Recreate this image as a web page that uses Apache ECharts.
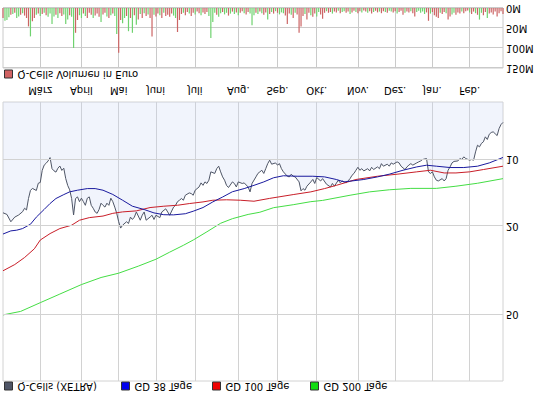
<!DOCTYPE html>
<html>
<head>
<meta charset="utf-8">
<script src="https://cdn.jsdelivr.net/npm/echarts@6/dist/echarts.min.js"></script>
<style>
html,body{margin:0;padding:0;background:#fff;}
#c{width:545px;height:395px;transform:scaleY(-1);transform-origin:50% 50%;}
</style>
</head>
<body>
<div id="c"></div>
<script>
// ---- data (trading day index, value) ----
const dayCount = 256;
const months = ['März','April','Mai','Juni','Juli','Aug.','Sep.','Okt.','Nov.','Dez.','Jan.','Feb.'];
const monthDays = [19,40,59,78,98,120,140,160,181,200,219,238];
const priceTicks = [10,20,50];
const volTicks = ['0M','50M','100M','150M'];

const price = [[0,17.4],[2,17.7],[4,19.1],[6,18.2],[8,17.8],[10,17.2],[11,16.6],[12,16.9],[13,15.0],[14,13.8],[15,13.5],[17,13.8],[18,12.8],[19,12.7],[20,11.2],[21,10.6],[22,10.4],[23,10.15],[24,9.8],[25,11.0],[26,11.25],[27,11.4],[28,10.95],[29,10.7],[30,11.2],[31,10.95],[32,12.2],[33,13.1],[34,13.7],[35,15.0],[36,17.8],[37,15.0],[38,14.75],[39,15.5],[40,14.95],[41,15.5],[42,16.1],[43,14.95],[44,14.75],[45,16.1],[46,16.6],[47,17.25],[48,17.5],[49,16.8],[50,15.75],[51,16.1],[52,16.4],[53,15.75],[54,16.1],[55,14.95],[56,15.5],[57,16.4],[58,17.5],[59,19.1],[60,20.4],[61,19.8],[63,19.1],[64,19.45],[65,18.2],[66,18.65],[67,18.2],[68,17.25],[70,18.8],[71,17.85],[72,17.25],[73,18.8],[75,18.2],[76,17.85],[77,18.65],[78,17.85],[80,18.3],[81,17.25],[83,16.7],[84,17.25],[85,17.85],[87,16.4],[88,16.1],[89,15.5],[90,15.27],[91,15.0],[92,15.27],[93,14.5],[95,14.15],[96,14.25],[97,14.5],[98,13.76],[100,13.3],[101,12.75],[102,13.08],[103,12.62],[104,12.83],[105,12.4],[106,11.37],[108,11.56],[109,11.0],[110,10.72],[111,11.37],[112,11.98],[113,12.4],[114,13.08],[115,13.38],[117,12.62],[118,12.83],[119,13.3],[120,12.62],[122,12.83],[123,12.75],[125,13.3],[126,14.0],[127,12.83],[129,11.98],[130,11.56],[131,11.37],[132,11.18],[133,11.56],[134,11.0],[135,10.44],[136,10.07],[137,10.5],[139,10.36],[140,10.6],[141,10.44],[142,11.0],[143,11.37],[145,11.9],[146,11.98],[147,11.65],[148,11.9],[149,11.98],[151,12.62],[152,13.85],[153,13.53],[154,13.76],[155,13.2],[157,12.62],[158,12.3],[159,12.83],[160,12.06],[162,12.5],[163,12.2],[165,12.93],[167,13.3],[168,12.83],[169,13.2],[171,12.4],[172,12.75],[173,12.5],[175,12.75],[177,12.2],[178,11.78],[179,11.56],[180,11.18],[181,10.84],[182,11.18],[183,11.0],[184,11.26],[186,11.0],[187,11.26],[188,10.84],[189,11.1],[191,10.8],[192,11.0],[193,10.44],[194,10.72],[196,10.5],[197,10.72],[198,10.36],[199,10.5],[201,10.25],[202,10.36],[203,10.72],[205,11.1],[206,10.8],[207,10.6],[208,10.44],[209,10.6],[211,10.36],[212,10.25],[213,10.15],[214,10.0],[216,9.9],[217,11.37],[218,11.56],[219,11.37],[220,11.98],[221,12.4],[222,12.5],[224,12.2],[225,12.5],[226,12.2],[227,11.18],[228,10.8],[229,10.36],[230,10.2],[232,10.15],[233,9.9],[234,10.0],[235,9.73],[236,9.9],[238,10.07],[239,10.0],[240,10.07],[241,9.24],[242,8.62],[243,8.77],[244,8.46],[245,8.32],[246,7.9],[247,8.12],[248,7.69],[249,7.55],[250,7.5],[251,7.65],[252,7.8],[253,7.25],[254,6.95],[255,6.8]];

const gd38 = [[0,21.7],[4,21.0],[7,20.85],[10,20.5],[14,19.6],[17,18.2],[21,16.8],[24,15.8],[27,15.0],[31,14.4],[34,14.0],[38,13.76],[43,13.53],[47,13.53],[51,13.76],[56,14.38],[61,15.27],[66,16.25],[72,16.82],[77,17.42],[82,17.75],[87,17.78],[93,17.57],[97,17.12],[102,16.48],[107,15.54],[112,14.77],[117,13.98],[123,13.53],[128,13.08],[133,12.62],[138,12.09],[143,11.84],[150,11.9],[158,11.9],[164,11.98],[170,12.31],[174,12.62],[184,12.31],[191,11.98],[197,11.65],[204,11.18],[211,10.8],[216,10.61],[221,10.72],[228,10.87],[235,10.87],[242,10.72],[248,10.36],[255,9.79]];

const gd100 = [[0,31.8],[6,29.8],[11,27.7],[16,25.3],[19,23.1],[24,21.6],[29,20.5],[35,19.8],[39,18.8],[44,18.3],[51,18.0],[56,17.5],[61,17.24],[68,17.06],[75,16.48],[82,16.25],[89,16.09],[95,15.81],[102,15.54],[107,15.27],[114,15.2],[121,15.27],[128,15.43],[136,14.98],[148,14.4],[157,14.0],[164,13.53],[170,13.08],[180,12.31],[191,11.9],[201,11.65],[211,11.37],[218,11.18],[225,11.5],[231,11.5],[238,11.37],[245,11.1],[255,10.72]];

const gd200 = [[0,50.3],[9,48.5],[19,44.3],[29,40.5],[40,36.7],[50,34.1],[59,32.6],[69,30.3],[78,28.2],[85,26.2],[92,24.4],[97,23.1],[104,21.2],[111,19.4],[117,18.5],[125,17.7],[131,17.3],[138,16.5],[148,16.0],[157,15.5],[163,15.3],[177,14.5],[187,14.0],[197,13.7],[208,13.5],[221,13.5],[231,13.2],[242,12.8],[255,12.2]];

// daily volume in million euro
const volume = [25,32,30,23,17,15,12,25,21,17,13,19,25,46,71,33,25,17,14,20,15,12,18,22,14,40,21,17,25,13,20,16,40,29,18,22,100,62,30,18,25,14,20,25,12,17,25,19,14,22,35,16,12,21,25,18,14,20,65,112,30,38,25,20,58,25,62,18,42,29,15,25,13,20,16,25,71,17,21,14,18,25,12,20,17,22,14,19,25,60,30,15,12,18,10,14,20,12,16,9,13,18,11,15,10,20,75,35,12,17,22,13,10,16,12,19,14,9,15,11,18,12,8,13,16,10,14,43,18,12,15,9,13,17,11,29,15,10,14,8,12,16,11,13,19,40,14,17,25,12,16,62,46,20,15,29,12,18,22,14,21,10,16,27,12,8,12,10,14,9,11,7,13,10,8,12,9,15,11,7,10,13,8,11,6,9,12,8,14,10,7,11,9,13,8,10,12,7,9,11,8,14,10,7,17,12,9,11,8,13,21,10,7,12,9,15,11,32,14,10,18,22,25,12,15,10,13,29,21,16,12,17,11,14,9,13,8,6,11,15,9,13,17,29,12,18,10,25,14,11,16,9,21,13,8,15];
// g = up day (green), r = down day (red)
const volDir = 'rgggrgrggrgrrrgrrgrgrgrggggrgrrgggrggrrggrgrrrgrrrgrrgrgrggrrggrgrgrgrgrgrgrrgrrgrgrrrrggrrrgrrgrrgrrgrrrggggrggrggrgrgrgrrgrrgggrgrgrrgrgrgrgggrrrgrgrrrrgrrgrrggrrrgrrgrrgrggrrgrrgrrgrrgrrgrrgrrgrggrrgrrrgrrgrrgggggrrgrrrrgrrgrrggrrrgrrrgrrgrggrrg';

// ---- chart ----
const font = 'DejaVu Sans';
const days = Array.from({length: dayCount}, (_, i) => String(i));
const isMonth = (idx) => monthDays.indexOf(idx) >= 0;
const gridCol = '#d2d2d2';
const volGridCol = '#cacaca';

const chart = echarts.init(document.getElementById('c'), null, {renderer: 'svg'});

const legendBase = {
  orient: 'horizontal', icon: 'rect', itemWidth: 8, itemHeight: 8, itemGap: 6,
  textStyle: {fontFamily: font, fontSize: 10, color: '#000'},
  itemStyle: {borderColor: '#333', borderWidth: 1},
  selectedMode: false, padding: 0
};

chart.setOption({
  animation: false,
  backgroundColor: '#fff',
  textStyle: {fontFamily: font},
  legend: [
    Object.assign({}, legendBase, {left: 4, top: 4, data: [{name: 'Q-Cells (XETRA)', itemStyle: {color: '#4e5566'}}]}),
    Object.assign({}, legendBase, {left: 121, top: 4, data: [{name: 'GD 38 Tage', itemStyle: {color: '#0000ee'}}]}),
    Object.assign({}, legendBase, {left: 212, top: 4, data: [{name: 'GD 100 Tage', itemStyle: {color: '#ee0000'}}]}),
    Object.assign({}, legendBase, {left: 310, top: 4, data: [{name: 'GD 200 Tage', itemStyle: {color: '#11dd11'}}]}),
    Object.assign({}, legendBase, {left: 4, top: 316, data: [{name: 'Q-Cells Volumen in Euro', itemStyle: {color: '#d06262'}}]})
  ],
  grid: [
    {left: 3, top: 14, width: 500, height: 279, show: true, borderColor: gridCol, borderWidth: 1, backgroundColor: 'transparent'},
    {left: 3, top: 327, width: 500, height: 60, show: true, borderColor: volGridCol, borderWidth: 1, backgroundColor: 'transparent'}
  ],
  xAxis: [
    {type: 'category', gridIndex: 0, data: days, boundaryGap: false,
     axisLine: {show: false}, axisTick: {show: false},
     axisLabel: {interval: (i) => isMonth(i), formatter: (v, i) => months[monthDays.indexOf(Number(v))] || '',
                 fontFamily: font, fontSize: 10, color: '#000', margin: 7, hideOverlap: false},
     splitLine: {show: true, interval: (i) => isMonth(i), lineStyle: {color: gridCol, width: 1}}},
    {type: 'category', gridIndex: 1, data: days, boundaryGap: false,
     axisLine: {show: false}, axisTick: {show: false},
     axisLabel: {show: true, interval: (i) => isMonth(i), formatter: () => ''},
     splitLine: {show: true, interval: (i) => isMonth(i), lineStyle: {color: volGridCol, width: 1}}}
  ],
  yAxis: [
    {type: 'log', logBase: 10, gridIndex: 0, min: 5.5, max: 100, position: 'right',
     axisLine: {show: false}, axisTick: {show: false}, axisLabel: {show: false}, splitLine: {show: false}},
    {type: 'value', gridIndex: 1, min: 0, max: 150, interval: 50, position: 'right',
     axisLine: {show: false}, axisTick: {show: false},
     axisLabel: {formatter: (v) => volTicks[Math.round(v / 50)], fontFamily: font, fontSize: 10, color: '#000', margin: 3},
     splitLine: {show: true, lineStyle: {color: volGridCol, width: 1}}}
  ],
  series: [
    {name: 'priceGrid', type: 'line', xAxisIndex: 0, yAxisIndex: 0, data: [], z: 1, silent: true,
     markLine: {silent: true, symbol: 'none', animation: false,
       lineStyle: {color: gridCol, type: 'solid', width: 1},
       label: {position: 'end', formatter: '{c}', color: '#000', fontFamily: font, fontSize: 10, distance: 3},
       data: priceTicks.map(v => ({yAxis: v}))}},
    {name: 'Q-Cells (XETRA)', type: 'line', xAxisIndex: 0, yAxisIndex: 0, data: price, z: 2,
     color: '#4e5566', showSymbol: false, symbol: 'none',
     lineStyle: {color: '#4e5566', width: 1},
     areaStyle: {color: 'rgba(196,206,240,0.33)', origin: 'start'}},
    {name: 'GD 200 Tage', type: 'line', xAxisIndex: 0, yAxisIndex: 0, data: gd200, z: 3,
     color: '#44dd44', symbol: 'none', lineStyle: {color: '#44dd44', width: 1}},
    {name: 'GD 100 Tage', type: 'line', xAxisIndex: 0, yAxisIndex: 0, data: gd100, z: 3,
     color: '#c81e28', symbol: 'none', lineStyle: {color: '#c81e28', width: 1}},
    {name: 'GD 38 Tage', type: 'line', xAxisIndex: 0, yAxisIndex: 0, data: gd38, z: 4,
     color: '#1a1a9e', symbol: 'none', lineStyle: {color: '#1a1a9e', width: 1}},
    {name: 'Q-Cells Volumen in Euro', type: 'bar', xAxisIndex: 1, yAxisIndex: 1, barWidth: 1.2, z: 2,
     color: '#d06262',
     data: volume.map((v, i) => ({value: v, itemStyle: {color: volDir[i] === 'g' ? '#6fd26f' : '#cc6464'}}))}
  ]
});
</script>
</body>
</html>
